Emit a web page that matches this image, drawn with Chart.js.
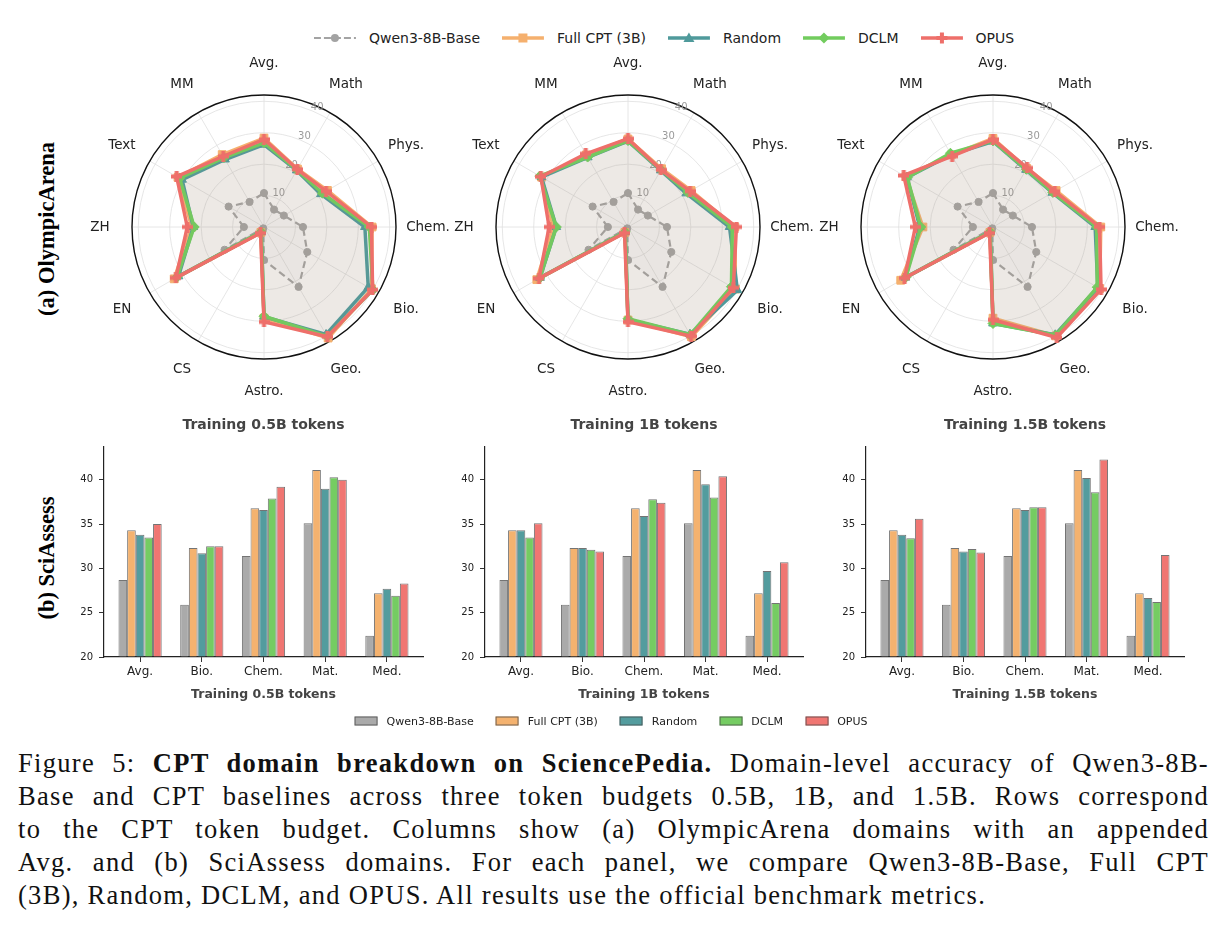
<!DOCTYPE html>
<html>
<head>
<meta charset="utf-8">
<script src="https://cdn.jsdelivr.net/npm/chart.js@4.4.1/dist/chart.umd.min.js"></script>
<style>
  html, body { margin: 0; padding: 0; background: #fff; }
  body { width: 1225px; height: 932px; position: relative; overflow: hidden; font-family: 'DejaVu Sans', sans-serif; }
  canvas { position: absolute; }
  .row-label { position: absolute; font-family: 'Liberation Serif', serif; font-weight: bold; font-size: 22.5px;
    white-space: nowrap; transform: translate(-50%, -50%) rotate(-90deg); color: #000; }
  .legend { position: absolute; display: flex; align-items: center; transform: translate(-50%, -50%); white-space: nowrap; color: #222; }
  .legend .item { display: flex; align-items: center; }
  .caption { position: absolute; left: 18px; top: 747px; width: 1191px; font-family: 'Liberation Serif', serif;
    font-size: 26.5px; line-height: 33px; letter-spacing: 1.3px; color: #111; }
  .caption div { text-align: justify; text-align-last: justify; }
  .caption div.last { text-align: left; text-align-last: left; }
</style>
</head>
<body>

<div class="legend" id="topLegend" style="left:664px; top:38px; font-size:14px;"></div>

<div class="row-label" style="left:47px; top:229px;">(a) OlympicArena</div>
<div class="row-label" style="left:47px; top:558px;">(b) SciAssess</div>

<canvas id="radar1" width="400" height="360" style="left:64px; top:47px;"></canvas>
<canvas id="radar2" width="400" height="360" style="left:428px; top:47px;"></canvas>
<canvas id="radar3" width="400" height="360" style="left:793px; top:47px;"></canvas>

<canvas id="bar1" width="400" height="320" style="left:40px; top:400px;"></canvas>
<canvas id="bar2" width="400" height="320" style="left:421px; top:400px;"></canvas>
<canvas id="bar3" width="400" height="320" style="left:802px; top:400px;"></canvas>

<div class="legend" id="bottomLegend" style="left:611px; top:721px; font-size:11px;"></div>

<div class="caption">
  <div>Figure 5: <b>CPT domain breakdown on SciencePedia.</b> Domain-level accuracy of Qwen3-8B-</div>
  <div>Base and CPT baselines across three token budgets 0.5B, 1B, and 1.5B. Rows correspond</div>
  <div>to the CPT token budget. Columns show (a) OlympicArena domains with an appended</div>
  <div>Avg. and (b) SciAssess domains. For each panel, we compare Qwen3-8B-Base, Full CPT</div>
  <div class="last">(3B), Random, DCLM, and OPUS. All results use the official benchmark metrics.</div>
</div>

<script>
Chart.defaults.font.family = "'DejaVu Sans', sans-serif";

const seriesNames = ['Qwen3-8B-Base', 'Full CPT (3B)', 'Random', 'DCLM', 'OPUS'];
const lineColors = ['#a3a3a3', '#f5b06e', '#4f9a9b', '#72cc5e', '#ee6f6a'];
const barColors = ['#aaaaaa', '#f4b26f', '#539c9e', '#75cc62', '#f07672'];

// OlympicArena radar axes
const radarLabels = ['Avg.', 'Math', 'Phys.', 'Chem.', 'Bio.', 'Geo.', 'Astro.', 'CS', 'EN', 'ZH', 'Text', 'MM'];
const radarTicks = [10, 20, 30, 40];
const radarMax = 42;

const qwenOA = [10.8, 6.4, 7.3, 12.4, 15.9, 22.0, 10.5, 0.5, 14.5, 6.4, 13.0, 9.2];

const fullCptOA05 = [28.3, 21.3, 23.3, 34.4, 39.5, 40.8, 29.0, 2.0, 33.0, 23.0, 31.6, 26.6];
const randomOA05 = [26.2, 20.8, 20.9, 32.1, 38.3, 39.5, 28.5, 1.8, 31.4, 22.5, 30.1, 24.8];
const dclmOA05 = [26.8, 21.0, 21.5, 33.5, 40.0, 40.2, 28.4, 1.8, 32.0, 22.2, 31.0, 25.5];
const opusOA05 = [27.9, 21.2, 22.8, 34.2, 39.9, 40.3, 30.2, 2.2, 32.4, 24.4, 32.1, 26.0];

const fullCptOA1 = [28.0, 21.4, 23.2, 34.0, 39.5, 40.3, 29.6, 2.0, 33.5, 23.8, 31.8, 26.5];
const randomOA1 = [27.3, 20.8, 21.4, 32.3, 40.2, 39.4, 29.5, 1.8, 32.3, 22.8, 31.8, 25.6];
const dclmOA1 = [27.5, 21.0, 22.0, 33.2, 38.0, 39.6, 29.2, 1.8, 32.4, 22.8, 32.4, 25.7];
const opusOA1 = [28.1, 21.0, 22.8, 34.5, 38.7, 40.1, 30.2, 2.2, 32.7, 25.1, 32.0, 26.9];

const fullCptOA15 = [28.2, 21.5, 23.2, 34.3, 39.2, 40.0, 29.0, 2.0, 33.9, 22.3, 32.0, 26.5];
const randomOA15 = [27.2, 21.0, 21.8, 32.5, 38.5, 39.6, 30.7, 1.8, 32.2, 23.3, 31.6, 26.6];
const dclmOA15 = [27.4, 21.2, 22.0, 33.0, 38.3, 39.8, 30.7, 1.8, 32.0, 23.0, 31.5, 27.1];
const opusOA15 = [27.9, 21.7, 22.7, 33.9, 39.7, 40.6, 29.5, 2.2, 32.5, 24.7, 32.8, 26.0];

// SciAssess bars
const barLabels = ['Avg.', 'Bio.', 'Chem.', 'Mat.', 'Med.'];
const qwenSA = [28.7, 25.9, 31.4, 35.1, 22.4];
const fullCptSA = [34.3, 32.3, 36.8, 41.1, 27.2];

const randomSA05 = [33.8, 31.7, 36.6, 39.0, 27.7];
const dclmSA05 = [33.5, 32.5, 37.9, 40.3, 26.9];
const opusSA05 = [35.0, 32.5, 39.2, 40.0, 28.3];

const randomSA1 = [34.3, 32.3, 35.9, 39.5, 29.7];
const dclmSA1 = [33.5, 32.1, 37.8, 38.0, 26.1];
const opusSA1 = [35.1, 31.9, 37.4, 40.4, 30.7];

const randomSA15 = [33.8, 31.9, 36.6, 40.2, 26.65];
const dclmSA15 = [33.4, 32.2, 36.9, 38.6, 26.2];
const opusSA15 = [35.6, 31.8, 36.9, 42.3, 31.5];

// filled plus marker (matplotlib 'P')
function plusMarker(color, size) {
  const c = document.createElement('canvas');
  c.width = c.height = size;
  const g = c.getContext('2d');
  g.fillStyle = color;
  const t = Math.round(size * 0.38), o = (size - t) / 2;
  g.fillRect(o, 0, t, size);
  g.fillRect(0, o, size, t);
  return c;
}

const pointStyles = ['circle', 'rect', 'triangle', 'rectRot', plusMarker(lineColors[4], 11)];
const pointRadii = [3.6, 5.5, 5, 5, 5];

const radarDecor = {
  id: 'radarDecor',
  beforeDatasetsDraw(chart) {
    const s = chart.scales.r, ctx = chart.ctx;
    ctx.save();
    // outer spine
    ctx.beginPath();
    ctx.arc(s.xCenter, s.yCenter, s.drawingArea, 0, Math.PI * 2);
    ctx.strokeStyle = '#111';
    ctx.lineWidth = 1.4;
    ctx.stroke();
    // radial tick labels
    const ang = -Math.PI / 2 + 24 * Math.PI / 180;
    ctx.fillStyle = '#9a9a9a';
    ctx.font = "10px 'DejaVu Sans'";
    ctx.textAlign = 'center';
    ctx.textBaseline = 'middle';
    radarTicks.forEach(v => {
      const d = s.getDistanceFromCenterForValue(v) + 5;
      ctx.fillText(String(v), s.xCenter + Math.cos(ang) * d, s.yCenter + Math.sin(ang) * d);
    });
    ctx.restore();
  },
  afterDraw(chart) {
    const s = chart.scales.r, ctx = chart.ctx;
    ctx.save();
    ctx.fillStyle = '#222';
    ctx.font = "13.5px 'DejaVu Sans'";
    ctx.textAlign = 'center';
    ctx.textBaseline = 'middle';
    chart.data.labels.forEach((lab, i) => {
      const p = s.getPointPosition(i, s.drawingArea + 32);
      ctx.fillText(lab, p.x, p.y);
    });
    ctx.restore();
  }
};

function radarChart(id, cpt, rnd, dclm, opus) {
  const vals = [qwenOA, cpt, rnd, dclm, opus];
  new Chart(document.getElementById(id), {
    type: 'radar',
    data: {
      labels: radarLabels,
      datasets: vals.map((d, i) => ({
        label: seriesNames[i],
        data: d,
        borderColor: lineColors[i],
        backgroundColor: i === 0 ? 'rgba(150,150,150,0.04)' : 'rgba(172,152,122,0.055)',
        fill: 'origin',
        borderWidth: i === 0 ? 2.2 : 3.5,
        borderDash: i === 0 ? [7, 4] : [],
        borderJoinStyle: 'round',
        pointStyle: pointStyles[i],
        pointRadius: pointRadii[i],
        pointBackgroundColor: lineColors[i],
        pointBorderColor: lineColors[i],
        pointBorderWidth: 1,
        order: 5 - i
      }))
    },
    options: {
      responsive: false,
      animation: false,
      devicePixelRatio: 1,
      layout: { padding: { left: 68, right: 68, top: 48, bottom: 48 } },
      plugins: { legend: { display: false }, tooltip: { enabled: false } },
      scales: {
        r: {
          min: 0,
          max: radarMax,
          ticks: { display: false, stepSize: 10, includeBounds: false },
          grid: { circular: true, color: '#e0e0e0', lineWidth: 0.8 },
          angleLines: { color: '#e0e0e0', lineWidth: 0.8 },
          pointLabels: { display: false }
        }
      }
    },
    plugins: [radarDecor]
  });
}

const axesTitle = {
  id: 'axesTitle',
  afterDraw(chart, args, opts) {
    const a = chart.chartArea, ctx = chart.ctx;
    ctx.save();
    ctx.fillStyle = '#444';
    ctx.font = "bold 14px 'DejaVu Sans'";
    ctx.textAlign = 'center';
    ctx.textBaseline = 'middle';
    ctx.fillText(opts.text, (a.left + a.right) / 2, 25);
    ctx.restore();
  }
};

function barChart(id, title, rnd, dclm, opus, padRight) {
  const vals = [qwenSA, fullCptSA, rnd, dclm, opus];
  new Chart(document.getElementById(id), {
    type: 'bar',
    data: {
      datasets: vals.map((d, i) => ({
        label: seriesNames[i],
        data: d.map((v, k) => ({ x: k, y: v })),
        backgroundColor: barColors[i],
        borderColor: 'rgba(70,70,70,0.75)',
        borderWidth: 1,
        base: 20,
        categoryPercentage: 0.7,
        barPercentage: 1.0
      }))
    },
    options: {
      responsive: false,
      animation: false,
      devicePixelRatio: 1,
      layout: { padding: { left: 0, right: padRight, top: 47, bottom: 0 } },
      plugins: { legend: { display: false }, tooltip: { enabled: false }, axesTitle: { text: title } },
      scales: {
        x: {
          type: 'linear',
          min: -0.585,
          max: 4.585,
          offset: false,
          grid: { display: true, offset: false, drawOnChartArea: false, drawTicks: true, tickLength: 5, color: '#333' },
          border: { display: true, color: '#222', width: 1.2 },
          ticks: {
            stepSize: 1, includeBounds: false, autoSkip: false, maxRotation: 0, padding: 3,
            font: { size: 12 }, color: '#222',
            callback: v => barLabels[v] ?? ''
          },
          title: { display: true, text: title, color: '#444', font: { size: 12.5, weight: 'bold' }, padding: { top: 0, bottom: 17.5 } },
          afterFit: s => { s.height = 63; }
        },
        y: {
          min: 20,
          max: 43.7,
          grid: { display: true, drawOnChartArea: false, drawTicks: true, tickLength: 5, color: '#333' },
          border: { display: true, color: '#222', width: 1.2 },
          ticks: { stepSize: 5, includeBounds: false, padding: 6, font: { size: 10 }, color: '#222' },
          afterFit: s => { s.width = 64; }
        }
      }
    },
    plugins: [axesTitle]
  });
}

radarChart('radar1', fullCptOA05, randomOA05, dclmOA05, opusOA05);
radarChart('radar2', fullCptOA1, randomOA1, dclmOA1, opusOA1);
radarChart('radar3', fullCptOA15, randomOA15, dclmOA15, opusOA15);

barChart('bar1', 'Training 0.5B tokens', randomSA05, dclmSA05, opusSA05, 17);
barChart('bar2', 'Training 1B tokens', randomSA1, dclmSA1, opusSA1, 18);
barChart('bar3', 'Training 1.5B tokens', randomSA15, dclmSA15, opusSA15, 18);

// legends
function markerSvg(i) {
  const c = lineColors[i];
  let m = '';
  if (i === 0) m = `<circle cx="21" cy="8" r="4" fill="${c}"/>`;
  if (i === 1) m = `<rect x="16.5" y="3.5" width="9" height="9" fill="${c}"/>`;
  if (i === 2) m = `<polygon points="21,2.5 26.5,12 15.5,12" fill="${c}"/>`;
  if (i === 3) m = `<polygon points="21,2.5 26.5,8 21,13.5 15.5,8" fill="${c}"/>`;
  if (i === 4) m = `<path d="M19,2.5h4v3.5h3.5v4h-3.5v3.5h-4v-3.5h-3.5v-4h3.5z" fill="${c}"/>`;
  const dash = i === 0 ? ' stroke-dasharray="7 3"' : '';
  return `<svg width="42" height="16"><line x1="0" y1="8" x2="42" y2="8" stroke="${c}" stroke-width="${i === 0 ? 2.2 : 3.5}"${dash}/>${m}</svg>`;
}
const topLegendEl = document.getElementById('topLegend');
seriesNames.forEach((n, i) => {
  const it = document.createElement('div');
  it.className = 'item';
  it.style.marginRight = i < 4 ? '22px' : '0';
  it.innerHTML = markerSvg(i) + `<span style="margin-left:13px">${n}</span>`;
  topLegendEl.appendChild(it);
});
const bottomLegendEl = document.getElementById('bottomLegend');
seriesNames.forEach((n, i) => {
  const it = document.createElement('div');
  it.className = 'item';
  it.style.marginRight = i < 4 ? '22px' : '0';
  it.innerHTML = `<span style="display:inline-block;width:21px;height:7px;background:${barColors[i]};border:0.8px solid rgba(70,70,70,0.75)"></span><span style="margin-left:9px">${n}</span>`;
  bottomLegendEl.appendChild(it);
});
</script>
</body>
</html>
